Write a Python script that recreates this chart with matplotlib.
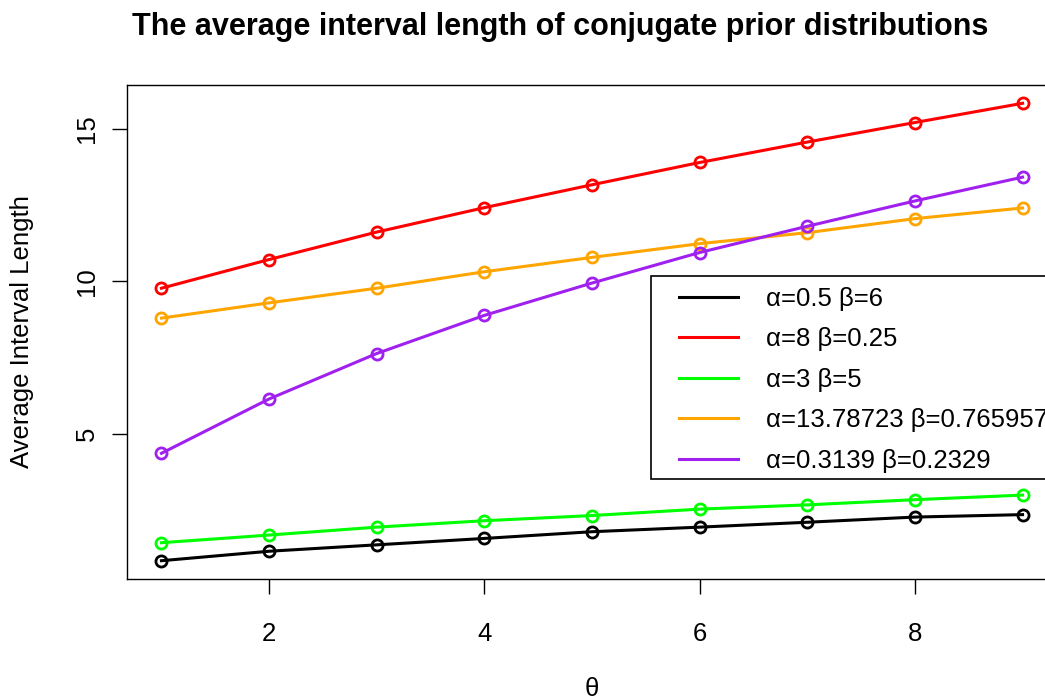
import numpy as np
import matplotlib
matplotlib.use("Agg")
import matplotlib.pyplot as plt
from matplotlib.lines import Line2D
from matplotlib.patches import Rectangle

plt.rcParams['font.family'] = ['Liberation Sans', 'DejaVu Sans']

theta = [1, 2, 3, 4, 5, 6, 7, 8, 9]

# average interval length for each prior
len_a05_b6 = [0.85, 1.16, 1.37, 1.58, 1.80, 1.95, 2.11, 2.28, 2.36]
len_a8_b025 = [9.78, 10.72, 11.62, 12.42, 13.17, 13.90, 14.57, 15.21, 15.84]
len_a3_b5 = [1.44, 1.69, 1.95, 2.16, 2.33, 2.54, 2.68, 2.85, 3.00]
len_a1378_b0766 = [8.80, 9.30, 9.78, 10.32, 10.79, 11.24, 11.60, 12.06, 12.41]
len_a03139_b02329 = [4.37, 6.15, 7.64, 8.89, 9.95, 10.95, 11.81, 12.64, 13.42]

labels = ['α=0.5 β=6', 'α=8 β=0.25', 'α=3 β=5',
          'α=13.78723 β=0.765957', 'α=0.3139 β=0.2329']
colors = ['black', '#FF0000', '#00FF00', '#FFA500', '#A020F0']
series = [len_a05_b6, len_a8_b025, len_a3_b5, len_a1378_b0766, len_a03139_b02329]

W, H = 1045, 698
fig = plt.figure(figsize=(W / 100, H / 100), dpi=100)
ax = fig.add_axes([127 / W, 1 - 579 / H, (1057 - 127) / W, (579 - 85) / H])

for vals, col in zip(series, colors):
    ax.plot(theta, vals, color=col, lw=2.2, marker='o', ms=8,
            mfc='none', mec=col, mew=2.0)

ax.margins(x=0.04, y=0.04)
ax.set_xticks([2, 4, 6, 8])
ax.set_yticks([5, 10, 15])
ax.tick_params(axis='both', length=11, width=1.0, labelsize=18.5, direction='out')
ax.tick_params(axis='x', pad=20)
ax.tick_params(axis='y', pad=9)
for t in ax.get_yticklabels():
    t.set_rotation(90)
    t.set_va('center')
for sp in ax.spines.values():
    sp.set_linewidth(1.0)

ax.set_xlabel('θ', fontsize=18.5, labelpad=22)
ax.set_ylabel('Average Interval Length', fontsize=18.5, labelpad=30)

fig.text(560 / W, 1 - 27 / H, 'The average interval length of conjugate prior distributions',
         ha='center', va='center', fontsize=22, fontweight='bold')

# legend frame drawn separately (R style: wide left padding)
ax.add_patch(Rectangle((651 / W, 1 - 479 / H), (1060 - 651) / W, (479 - 276) / H,
                       transform=fig.transFigure, facecolor='white',
                       edgecolor='black', lw=1.2, zorder=4, clip_on=False))

handles = [Line2D([0], [0], color=c, lw=2.2) for c in colors]
leg = ax.legend(handles, labels, loc='upper left',
                bbox_to_anchor=(679 / W, 1 - 287 / H), bbox_transform=fig.transFigure,
                borderaxespad=0, borderpad=0, fontsize=18.5, frameon=False,
                handlelength=2.3, handletextpad=1.08, labelspacing=0.64)
leg.set_zorder(5)

fig.savefig('out.png', dpi=100)
